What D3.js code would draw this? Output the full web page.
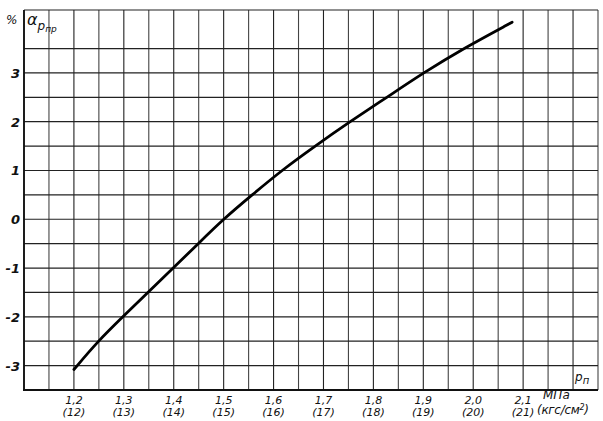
<!DOCTYPE html>
<html><head><meta charset="utf-8">
<script src="https://cdn.jsdelivr.net/npm/d3@7"></script>
<style>body{margin:0;background:#fff}svg{display:block}text{font-family:"DejaVu Sans",sans-serif;font-style:italic;fill:#111}</style>
</head><body><svg id="c" width="603" height="421"></svg>
<script>
const pressure = [1.2, 1.248, 1.298, 1.348, 1.399, 1.449, 1.499, 1.557, 1.616, 1.683, 1.753, 1.827, 1.900, 1.980, 2.078];
const alpha = [-3.08, -2.5, -2.0, -1.5, -1.0, -0.5, 0.0, 0.5, 1.0, 1.5, 2.0, 2.5, 3.0, 3.5, 4.04];
const xTicks = [1.2, 1.3, 1.4, 1.5, 1.6, 1.7, 1.8, 1.9, 2.0, 2.1];
const xTickMpa = ["1,2", "1,3", "1,4", "1,5", "1,6", "1,7", "1,8", "1,9", "2,0", "2,1"];
const xTickKgf = ["(12)", "(13)", "(14)", "(15)", "(16)", "(17)", "(18)", "(19)", "(20)", "(21)"];
const yTicks = [-3, -2, -1, 0, 1, 2, 3];

const svg = d3.select("#c");
const x = d3.scaleLinear().domain([1.1, 2.25]).range([24, 598]);
const y = d3.scaleLinear().domain([-3.5, 4.29]).range([390, 10]);

// grid
const vLines = d3.range(0, 24).map(i => 1.1 + i * 0.05);
const hLines = d3.range(0, 15).map(i => -3.5 + i * 0.5);
const g = svg.append("g");
g.selectAll(".v").data(vLines).join("line")
  .attr("x1", d => x(d)).attr("x2", d => x(d)).attr("y1", y(4.29)).attr("y2", y(-3.5))
  .attr("stroke", (d, i) => i % 2 ? "#444" : "#222").attr("stroke-width", 1.1);
g.selectAll(".h").data(hLines.concat([4.29])).join("line")
  .attr("x1", x(1.1)).attr("x2", x(2.25)).attr("y1", d => y(d)).attr("y2", d => y(d))
  .attr("stroke", "#222").attr("stroke-width", 1.2);
// axes lines
svg.append("line").attr("x1", x(1.1)).attr("x2", x(1.1)).attr("y1", y(4.29)).attr("y2", y(-3.5)).attr("stroke", "#111").attr("stroke-width", 1.8);
svg.append("line").attr("x1", x(1.1) - 1).attr("x2", x(2.25)).attr("y1", y(-3.5)).attr("y2", y(-3.5)).attr("stroke", "#111").attr("stroke-width", 1.8);

// y labels
svg.selectAll(".yl").data(yTicks).join("text")
  .attr("x", 20).attr("y", d => y(d) + 5).attr("text-anchor", "end")
  .attr("font-size", 13).attr("font-weight", "bold").text(d => d < 0 ? "-" + Math.abs(d) : d);

// x labels
svg.selectAll(".xl1").data(xTicks).join("text")
  .attr("x", d => x(d)).attr("y", 404).attr("text-anchor", "middle").attr("font-size", 11)
  .text((d, i) => xTickMpa[i]);
svg.selectAll(".xl2").data(xTicks).join("text")
  .attr("x", d => x(d)).attr("y", 416).attr("text-anchor", "middle").attr("font-size", 11)
  .text((d, i) => xTickKgf[i]);
svg.append("text").attr("x", 543).attr("y", 399).attr("font-size", 12).text("МПа");
svg.append("text").attr("x", 537).attr("y", 414).attr("font-size", 12).attr("letter-spacing", -0.3).html("(кгс/см<tspan dy='-4' font-size='8'>2</tspan><tspan dy='4'>)</tspan>");

// axis titles
svg.append("text").attr("x", 6).attr("y", 24).attr("font-size", 12).text("%");
const at = svg.append("text").attr("x", 27).attr("y", 25).attr("font-size", 16);
at.append("tspan").text("α");
at.append("tspan").attr("dy", 5).attr("font-size", 12).text("p");
at.append("tspan").attr("dy", 2).attr("font-size", 9).text("пр");
const pt = svg.append("text").attr("x", 575).attr("y", 381).attr("font-size", 12);
pt.append("tspan").text("p");
pt.append("tspan").attr("dy", 3).attr("font-size", 10).text("п");

// curve
const pts = pressure.map((p, i) => [p, alpha[i]]);
svg.append("path").datum(pts)
  .attr("d", d3.line().x(d => x(d[0])).y(d => y(d[1])).curve(d3.curveBasis))
  .attr("fill", "none").attr("stroke", "#000").attr("stroke-width", 2.8).attr("stroke-linecap", "round");
</script></body></html>
